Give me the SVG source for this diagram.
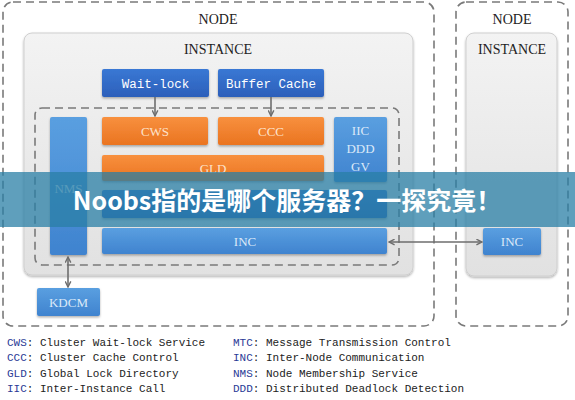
<svg xmlns="http://www.w3.org/2000/svg" width="575" height="400" viewBox="0 0 575 400">
<defs>
<linearGradient id="gInst" x1="0" y1="0" x2="0" y2="1"><stop offset="0" stop-color="#f3f3f3"/><stop offset="1" stop-color="#e1e1e1"/></linearGradient>
<linearGradient id="gDark" x1="0" y1="0" x2="0" y2="1"><stop offset="0" stop-color="#3a78d4"/><stop offset="1" stop-color="#2c5fba"/></linearGradient>
<linearGradient id="gBlue" x1="0" y1="0" x2="0" y2="1"><stop offset="0" stop-color="#5a9fe0"/><stop offset="1" stop-color="#3f83cf"/></linearGradient>
<linearGradient id="gOr" x1="0" y1="0" x2="0" y2="1"><stop offset="0" stop-color="#f8903e"/><stop offset="1" stop-color="#ea7421"/></linearGradient>
<filter id="sh" x="-10%" y="-10%" width="120%" height="130%"><feDropShadow dx="0" dy="1.5" stdDeviation="1.2" flood-color="#000" flood-opacity="0.3"/></filter>
<marker id="ah" viewBox="0 0 10 10" refX="9" refY="5" markerWidth="7" markerHeight="7" orient="auto-start-reverse" markerUnits="userSpaceOnUse"><path d="M1,1 L9,5 L1,9" fill="none" stroke="#6e6e6e" stroke-width="2"/></marker>
</defs>
<style>
.node{fill:none;stroke:#7a7a7a;stroke-width:1.6;stroke-dasharray:8 5}
.inst{fill:url(#gInst);stroke:#cfcfcf;stroke-width:1;filter:url(#sh)}
.ttl{font-family:"Liberation Serif",serif;font-size:14px;fill:#222;text-anchor:middle}
.dk{fill:url(#gDark);filter:url(#sh)}
.bl{fill:url(#gBlue);filter:url(#sh)}
.or{fill:url(#gOr);filter:url(#sh)}
.mono{font-family:"Liberation Mono","DejaVu Sans Mono",monospace;font-size:12.5px;fill:#fff;text-anchor:middle}
.lbl{font-family:"Liberation Serif",serif;font-size:13px;text-anchor:middle}
.lo{fill:#fde3cc}
.lb{fill:#dbe9f8}
.conn{stroke:#6e6e6e;stroke-width:1.6;fill:none}
.leg{font-family:"Liberation Mono","DejaVu Sans Mono",monospace;font-size:11px;fill:#222}
.ab{fill:#2a3a96}
</style>
<rect width="575" height="400" fill="#fff"/>
<g id="node1">
<rect class="node" x="3" y="2" width="431" height="324" rx="10"/>
<text class="ttl" x="218" y="24">NODE</text>
</g>
<g id="node2">
<rect class="node" x="456" y="2" width="112" height="324" rx="10"/>
<text class="ttl" x="512" y="24">NODE</text>
</g>
<g id="instance1">
<rect class="inst" x="24" y="33" width="389" height="242" rx="8"/>
<text class="ttl" x="218" y="54">INSTANCE</text>
</g>
<g id="instance2">
<rect class="inst" x="466" y="33" width="91" height="243" rx="8"/>
<text class="ttl" x="512" y="54">INSTANCE</text>
</g>
<g id="inner">
<rect class="node" x="35" y="108" width="364" height="157" rx="7"/>
</g>
<g id="waitlock"><rect class="dk" x="102" y="69" width="107" height="28" rx="2"/><text class="mono" x="155.5" y="87.5">Wait-lock</text></g>
<g id="buffercache"><rect class="dk" x="218" y="69" width="106" height="28" rx="2"/><text class="mono" x="271" y="87.5">Buffer Cache</text></g>
<g id="nms"><rect class="bl" x="50" y="117" width="37" height="138" rx="2"/><text class="lbl lb" x="68.5" y="193">NMS</text></g>
<g id="cws"><rect class="or" x="102" y="117" width="106" height="28" rx="2"/><text class="lbl lo" x="155" y="136">CWS</text></g>
<g id="ccc"><rect class="or" x="218" y="117" width="106" height="28" rx="2"/><text class="lbl lo" x="271" y="136">CCC</text></g>
<g id="gld"><rect class="or" x="102" y="155" width="222" height="26" rx="2"/><text class="lbl lo" x="213" y="173">GLD</text></g>
<g id="iic"><rect class="bl" x="334" y="117" width="53" height="65" rx="2"/><text class="lbl lb" x="360.5" y="135">IIC</text><text class="lbl lb" x="360.5" y="153">DDD</text><text class="lbl lb" x="360.5" y="171">GV</text></g>
<g id="mtc"><rect class="dk" x="102" y="190" width="285" height="28" rx="2"/></g>
<g id="inc1"><rect class="bl" x="102" y="228" width="285" height="26" rx="2"/><text class="lbl lb" x="245" y="246">INC</text></g>
<g id="inc2"><rect class="bl" x="483" y="228" width="58" height="27" rx="2"/><text class="lbl lb" x="512" y="246">INC</text></g>
<g id="kdcm"><rect class="bl" x="37" y="288" width="63" height="28" rx="2"/><text class="lbl lb" x="68.5" y="307">KDCM</text></g>
<g id="connectors">
<line class="conn" x1="155" y1="97" x2="155" y2="116" marker-end="url(#ah)"/>
<line class="conn" x1="271" y1="97" x2="271" y2="116" marker-end="url(#ah)"/>
<line class="conn" x1="389" y1="242" x2="482" y2="242" marker-start="url(#ah)" marker-end="url(#ah)"/>
<line class="conn" x1="68" y1="257" x2="68" y2="287" marker-start="url(#ah)" marker-end="url(#ah)"/>
</g>
<g id="legend">
<text class="leg" x="7" y="346"><tspan class="ab">CWS</tspan>: Cluster Wait-lock Service</text>
<text class="leg" x="7" y="361"><tspan class="ab">CCC</tspan>: Cluster Cache Control</text>
<text class="leg" x="7" y="377"><tspan class="ab">GLD</tspan>: Global Lock Directory</text>
<text class="leg" x="7" y="392"><tspan class="ab">IIC</tspan>: Inter-Instance Call</text>
<text class="leg" x="233" y="346"><tspan class="ab">MTC</tspan>: Message Transmission Control</text>
<text class="leg" x="233" y="361"><tspan class="ab">INC</tspan>: Inter-Node Communication</text>
<text class="leg" x="233" y="377"><tspan class="ab">NMS</tspan>: Node Membership Service</text>
<text class="leg" x="233" y="392"><tspan class="ab">DDD</tspan>: Distributed Deadlock Detection</text>
</g>
<g id="banner">
<rect x="0" y="172" width="575" height="55" fill="#2a7fa6" fill-opacity="0.75"/>
<text x="287" y="210" font-family="'Noto Sans CJK SC','Noto Sans',sans-serif" font-weight="bold" font-size="25" fill="#fff" text-anchor="middle">Noobs指的是哪个服务器？一探究竟！</text>
</g>
</svg>
